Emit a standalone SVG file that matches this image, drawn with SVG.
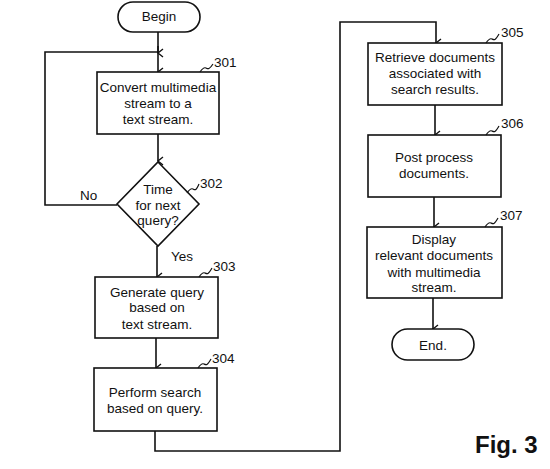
<svg xmlns="http://www.w3.org/2000/svg" width="550" height="469" viewBox="0 0 550 469">
<defs>
<marker id="arr" markerWidth="10" markerHeight="10" refX="5" refY="8" orient="auto-start-reverse" markerUnits="userSpaceOnUse" viewBox="0 0 10 10">
<path d="M1,3 L5,8 L9,3" fill="none" stroke="#111" stroke-width="1.4"/>
</marker>
<style>
.box{fill:#fff;stroke:#111;stroke-width:1.6}
.t{font-family:"Liberation Sans",Arial,sans-serif;font-size:13.5px;fill:#111;text-anchor:middle}
.lbl{font-family:"Liberation Sans",Arial,sans-serif;font-size:13.5px;fill:#111}
.sq{fill:none;stroke:#111;stroke-width:1.2}
.c{fill:none;stroke:#111;stroke-width:1.6}
</style>
</defs>
<rect width="550" height="469" fill="#fff"/>
<g id="connectors">
<path class="c" d="M158,32 V72" marker-end="url(#arr)"/>
<path class="c" d="M117,205 H45 V52 H158" />
<path class="c" d="M158,46 V53" marker-end="url(#arr)"/>
<path class="c" d="M158,134 V161" marker-end="url(#arr)"/>
<path class="c" d="M157,246 V277" marker-end="url(#arr)"/>
<path class="c" d="M156,338 V368" marker-end="url(#arr)"/>
<path class="c" d="M155,431 V451 H340 V22 H436 V43" marker-end="url(#arr)"/>
<path class="c" d="M435,105 V135" marker-end="url(#arr)"/>
<path class="c" d="M434,197 V227" marker-end="url(#arr)"/>
<path class="c" d="M433,298 V329" marker-end="url(#arr)"/>
</g>
<g id="begin">
<rect class="box" x="118" y="2" width="82" height="30" rx="15"/>
<text class="t" x="159" y="21">Begin</text>
</g>
<g id="n301">
<rect class="box" x="97" y="72" width="122" height="62"/>
<text class="t" x="158" y="92">Convert multimedia</text>
<text class="t" x="158" y="108">stream to a</text>
<text class="t" x="158" y="124">text stream.</text>
<path class="sq" d="M200,72 c2,-3 4,-5 6,-4 s3,2 7,-4"/>
<text class="lbl" x="214" y="67">301</text>
</g>
<g id="n302">
<polygon class="box" points="158,162 199,204 158,246 117,204"/>
<text class="t" x="158" y="194">Time</text>
<text class="t" x="158" y="210">for next</text>
<text class="t" x="158" y="225">query?</text>
<path class="sq" d="M187,193 c2,-3 4,-5 6,-4 s3,2 6,-5"/>
<text class="lbl" x="200" y="188">302</text>
<text class="lbl" x="80" y="200">No</text>
<text class="lbl" x="171" y="261">Yes</text>
</g>
<g id="n303">
<rect class="box" x="95" y="277" width="123" height="61"/>
<text class="t" x="157" y="297">Generate query</text>
<text class="t" x="157" y="312">based on</text>
<text class="t" x="157" y="329">text stream.</text>
<path class="sq" d="M199,277 c2,-3 4,-5 6,-4 s3,2 7,-5"/>
<text class="lbl" x="213" y="271">303</text>
</g>
<g id="n304">
<rect class="box" x="94" y="368" width="123" height="63"/>
<text class="t" x="155" y="397">Perform search</text>
<text class="t" x="155" y="413">based on query.</text>
<path class="sq" d="M198,368 c2,-3 4,-5 6,-4 s3,2 7,-5"/>
<text class="lbl" x="212" y="363">304</text>
</g>
<g id="n305">
<rect class="box" x="368" y="43" width="134" height="62"/>
<text class="t" x="435" y="62">Retrieve documents</text>
<text class="t" x="435" y="78">associated with</text>
<text class="t" x="435" y="94">search results.</text>
<path class="sq" d="M486,43 c2,-3 4,-5 6,-4 s3,2 7,-5"/>
<text class="lbl" x="501" y="37">305</text>
</g>
<g id="n306">
<rect class="box" x="368" y="135" width="133" height="62"/>
<text class="t" x="434" y="162">Post process</text>
<text class="t" x="434" y="178">documents.</text>
<path class="sq" d="M486,135 c2,-3 4,-5 6,-4 s3,2 7,-5"/>
<text class="lbl" x="501" y="128">306</text>
</g>
<g id="n307">
<rect class="box" x="367" y="227" width="135" height="71"/>
<text class="t" x="434" y="244">Display</text>
<text class="t" x="434" y="260">relevant documents</text>
<text class="t" x="434" y="277">with multimedia</text>
<text class="t" x="434" y="292">stream.</text>
<path class="sq" d="M485,227 c2,-3 4,-5 6,-4 s3,2 7,-5"/>
<text class="lbl" x="500" y="220">307</text>
</g>
<g id="end">
<rect class="box" x="392" y="329" width="82" height="31" rx="15.5"/>
<text class="t" x="433" y="350">End.</text>
</g>
<text x="475" y="453" font-family="'Liberation Sans',Arial,sans-serif" font-size="24" font-weight="bold" fill="#111">Fig. 3</text>
</svg>
